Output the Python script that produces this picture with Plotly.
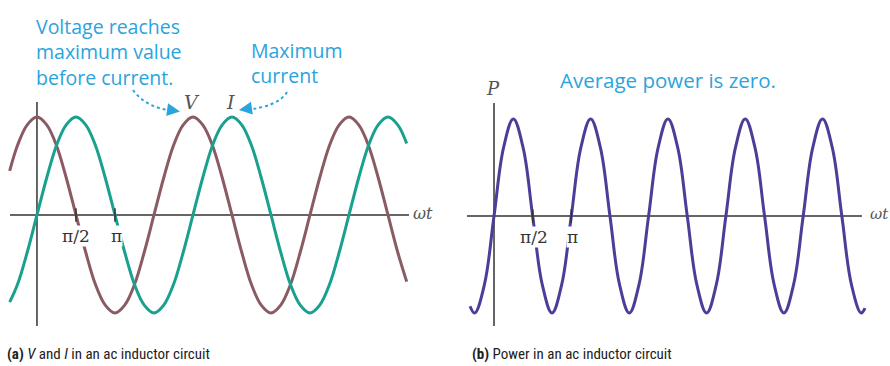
import plotly.graph_objects as go

W, H = 890, 366

# ---------------- data (ωt in units of π) ----------------
wt_a = [-0.35, -0.25, -0.125,
        0, 0.125, 0.25, 0.375, 0.5, 0.625, 0.75, 0.875,
        1, 1.125, 1.25, 1.375, 1.5, 1.625, 1.75, 1.875,
        2, 2.125, 2.25, 2.375, 2.5, 2.625, 2.75, 2.875,
        3, 3.125, 3.25, 3.375, 3.5, 3.625, 3.75, 3.875,
        4, 4.125, 4.25, 4.375, 4.5, 4.625, 4.74]
V_vals = [0.45, 0.71, 0.92,
          1, 0.92, 0.71, 0.38, 0, -0.38, -0.71, -0.92,
          -1, -0.92, -0.71, -0.38, 0, 0.38, 0.71, 0.92,
          1, 0.92, 0.71, 0.38, 0, -0.38, -0.71, -0.92,
          -1, -0.92, -0.71, -0.38, 0, 0.38, 0.71, 0.92,
          1, 0.92, 0.71, 0.38, 0, -0.38, -0.68]
I_vals = [-0.89, -0.71, -0.38,
          0, 0.38, 0.71, 0.92, 1, 0.92, 0.71, 0.38,
          0, -0.38, -0.71, -0.92, -1, -0.92, -0.71, -0.38,
          0, 0.38, 0.71, 0.92, 1, 0.92, 0.71, 0.38,
          0, -0.38, -0.71, -0.92, -1, -0.92, -0.71, -0.38,
          0, 0.38, 0.71, 0.92, 1, 0.92, 0.73]

wt_b = [-0.31, -0.25, -0.125, 0, 0.125, 0.25, 0.375, 0.5, 0.625, 0.75, 0.875,
        1, 1.125, 1.25, 1.375, 1.5, 1.625, 1.75, 1.875,
        2, 2.125, 2.25, 2.375, 2.5, 2.625, 2.75, 2.875,
        3, 3.125, 3.25, 3.375, 3.5, 3.625, 3.75, 3.875,
        4, 4.125, 4.25, 4.375, 4.5, 4.625, 4.75, 4.8]
P_vals = [-0.93, -1, -0.71, 0, 0.71, 1, 0.71, 0, -0.71, -1, -0.71,
          0, 0.71, 1, 0.71, 0, -0.71, -1, -0.71,
          0, 0.71, 1, 0.71, 0, -0.71, -1, -0.71,
          0, 0.71, 1, 0.71, 0, -0.71, -1, -0.71,
          0, 0.71, 1, 0.71, 0, -0.71, -1, -0.95]

tick_vals = [0.5, 1]
tick_text = ["π/2", "π"]

BROWN = "#8a5b62"
TEAL = "#19a08e"
PURPLE = "#4b3e98"
BLUE = "#2aa4dc"
AXIS = "#333333"
GRAYTXT = "#555555"

fig = go.Figure()
fig.add_trace(go.Scatter(x=wt_a, y=V_vals, mode="lines", xaxis="x", yaxis="y",
                         line=dict(color=BROWN, width=3, shape="spline", smoothing=1.0),
                         hoverinfo="skip", showlegend=False))
fig.add_trace(go.Scatter(x=wt_a, y=I_vals, mode="lines", xaxis="x", yaxis="y",
                         line=dict(color=TEAL, width=3, shape="spline", smoothing=1.0),
                         hoverinfo="skip", showlegend=False))
fig.add_trace(go.Scatter(x=wt_b, y=P_vals, mode="lines", xaxis="x2", yaxis="y2",
                         line=dict(color=PURPLE, width=3, shape="spline", smoothing=1.1),
                         hoverinfo="skip", showlegend=False))

shapes = []
# panel (a) axes
shapes.append(dict(type="line", xref="x", yref="y", x0=-0.346, x1=4.77, y0=0, y1=0,
                   line=dict(color=AXIS, width=1.5), layer="below"))
shapes.append(dict(type="line", xref="x", yref="y", x0=0, x1=0, y0=-1.133, y1=1.153,
                   line=dict(color=AXIS, width=1.5), layer="below"))
# panel (b) axes
shapes.append(dict(type="line", xref="x2", yref="y2", x0=-0.35, x1=4.76, y0=0, y1=0,
                   line=dict(color=AXIS, width=1.5), layer="below"))
shapes.append(dict(type="line", xref="x2", yref="y2", x0=0, x1=0, y0=-1.134, y1=1.165,
                   line=dict(color=AXIS, width=1.5), layer="below"))
# tick marks
for xr, yr in (("x", "y"), ("x2", "y2")):
    for tv in tick_vals:
        shapes.append(dict(type="line", xref=xr, yref=yr, x0=tv, x1=tv, y0=-0.07, y1=0.07,
                           line=dict(color=AXIS, width=1.5)))


def px(x, y):
    return x / W, 1 - y / H


def path_px(points):
    (x0, y0), (cx, cy), (x1, y1) = points
    a = px(x0, y0); b = px(cx, cy); c = px(x1, y1)
    return f"M {a[0]},{a[1]} Q {b[0]},{b[1]} {c[0]},{c[1]}"


# dotted curved arrows
shapes.append(dict(type="path", xref="paper", yref="paper",
                   path=path_px([(133, 90), (146, 108), (174, 111)]),
                   line=dict(color=BLUE, width=2, dash="dot")))
shapes.append(dict(type="path", xref="paper", yref="paper",
                   path=path_px([(287, 92), (278, 107), (244, 110)]),
                   line=dict(color=BLUE, width=2, dash="dot")))

annotations = []


def add_text(text, x, y, size, color, family, xanchor="center", yanchor="middle",
             bg=None, align="left"):
    X, Y = px(x, y)
    d = dict(text=text, x=X, y=Y, xref="paper", yref="paper", showarrow=False,
             xanchor=xanchor, yanchor=yanchor, align=align,
             font=dict(size=size, color=color, family=family))
    if bg:
        d["bgcolor"] = bg
        d["borderpad"] = 0
    annotations.append(d)


SANS = "Open Sans, Lato, sans-serif"
SERIF = "DejaVu Serif, Liberation Serif, serif"

# arrowheads
for (x, y, ax, ay) in ((180, 111.5, -7, -1), (239, 110, 7, -1)):
    X, Y = px(x, y)
    annotations.append(dict(x=X, y=Y, xref="paper", yref="paper", text="", showarrow=True,
                            ax=ax, ay=ay, arrowhead=2, arrowsize=1.3, arrowwidth=2,
                            arrowcolor=BLUE))

# blue explanatory text
add_text("Voltage reaches<br>maximum value<br>before current.", 34, 52, 19.5, BLUE, SANS,
         xanchor="left")
add_text("Maximum<br>current", 249, 63, 19.5, BLUE, SANS, xanchor="left")
add_text("Average power is zero.", 668, 80, 20.5, BLUE, SANS)

# curve / axis labels
add_text("<i>V</i>", 192, 102, 19, GRAYTXT, SERIF)
add_text("<i>I</i>", 230, 102, 19, GRAYTXT, SERIF)
add_text("<i>P</i>", 493, 88, 18, GRAYTXT, SERIF)
add_text("<i>ωt</i>", 411, 213, 16, GRAYTXT, SERIF, xanchor="left")
add_text("<i>ωt</i>", 868, 214, 15, GRAYTXT, SERIF, xanchor="left")

# tick labels (white background interrupts the curves as in the reference)
add_text(tick_text[0], 76, 236, 17, AXIS, SERIF, bg="white")
add_text(tick_text[1], 116, 236, 17, AXIS, SERIF, bg="white")
add_text(tick_text[0], 534, 237, 17, AXIS, SERIF, bg="white")
add_text(tick_text[1], 572, 237, 17, AXIS, SERIF, bg="white")

# captions
CAP = "Liberation Sans Narrow, Roboto Condensed, DejaVu Sans Condensed, sans-serif"
add_text("<b>(a)</b> <i>V</i> and <i>I</i> in an ac inductor circuit", 5, 354, 15,
         "#222222", CAP, xanchor="left")
add_text("<b>(b)</b> Power in an ac inductor circuit", 470, 354, 15,
         "#222222", CAP, xanchor="left")

fig.update_layout(
    width=W, height=H,
    margin=dict(l=0, r=0, t=0, b=0, pad=0),
    paper_bgcolor="white", plot_bgcolor="white",
    xaxis=dict(domain=[0, 0.5], range=[-0.474, 5.231], visible=False, fixedrange=True),
    yaxis=dict(domain=[0, 1], range=[-1.541, 2.194], visible=False, fixedrange=True),
    xaxis2=dict(domain=[0.5, 1], range=[-0.634, 5.123], visible=False, anchor="y2",
                fixedrange=True),
    yaxis2=dict(domain=[0, 1], range=[-1.546, 2.227], visible=False, anchor="x2",
                fixedrange=True),
    shapes=shapes,
    annotations=annotations,
    showlegend=False,
)

fig.write_html("out.html", config={"displayModeBar": False},
               post_script="document.body.style.margin='0px';")
